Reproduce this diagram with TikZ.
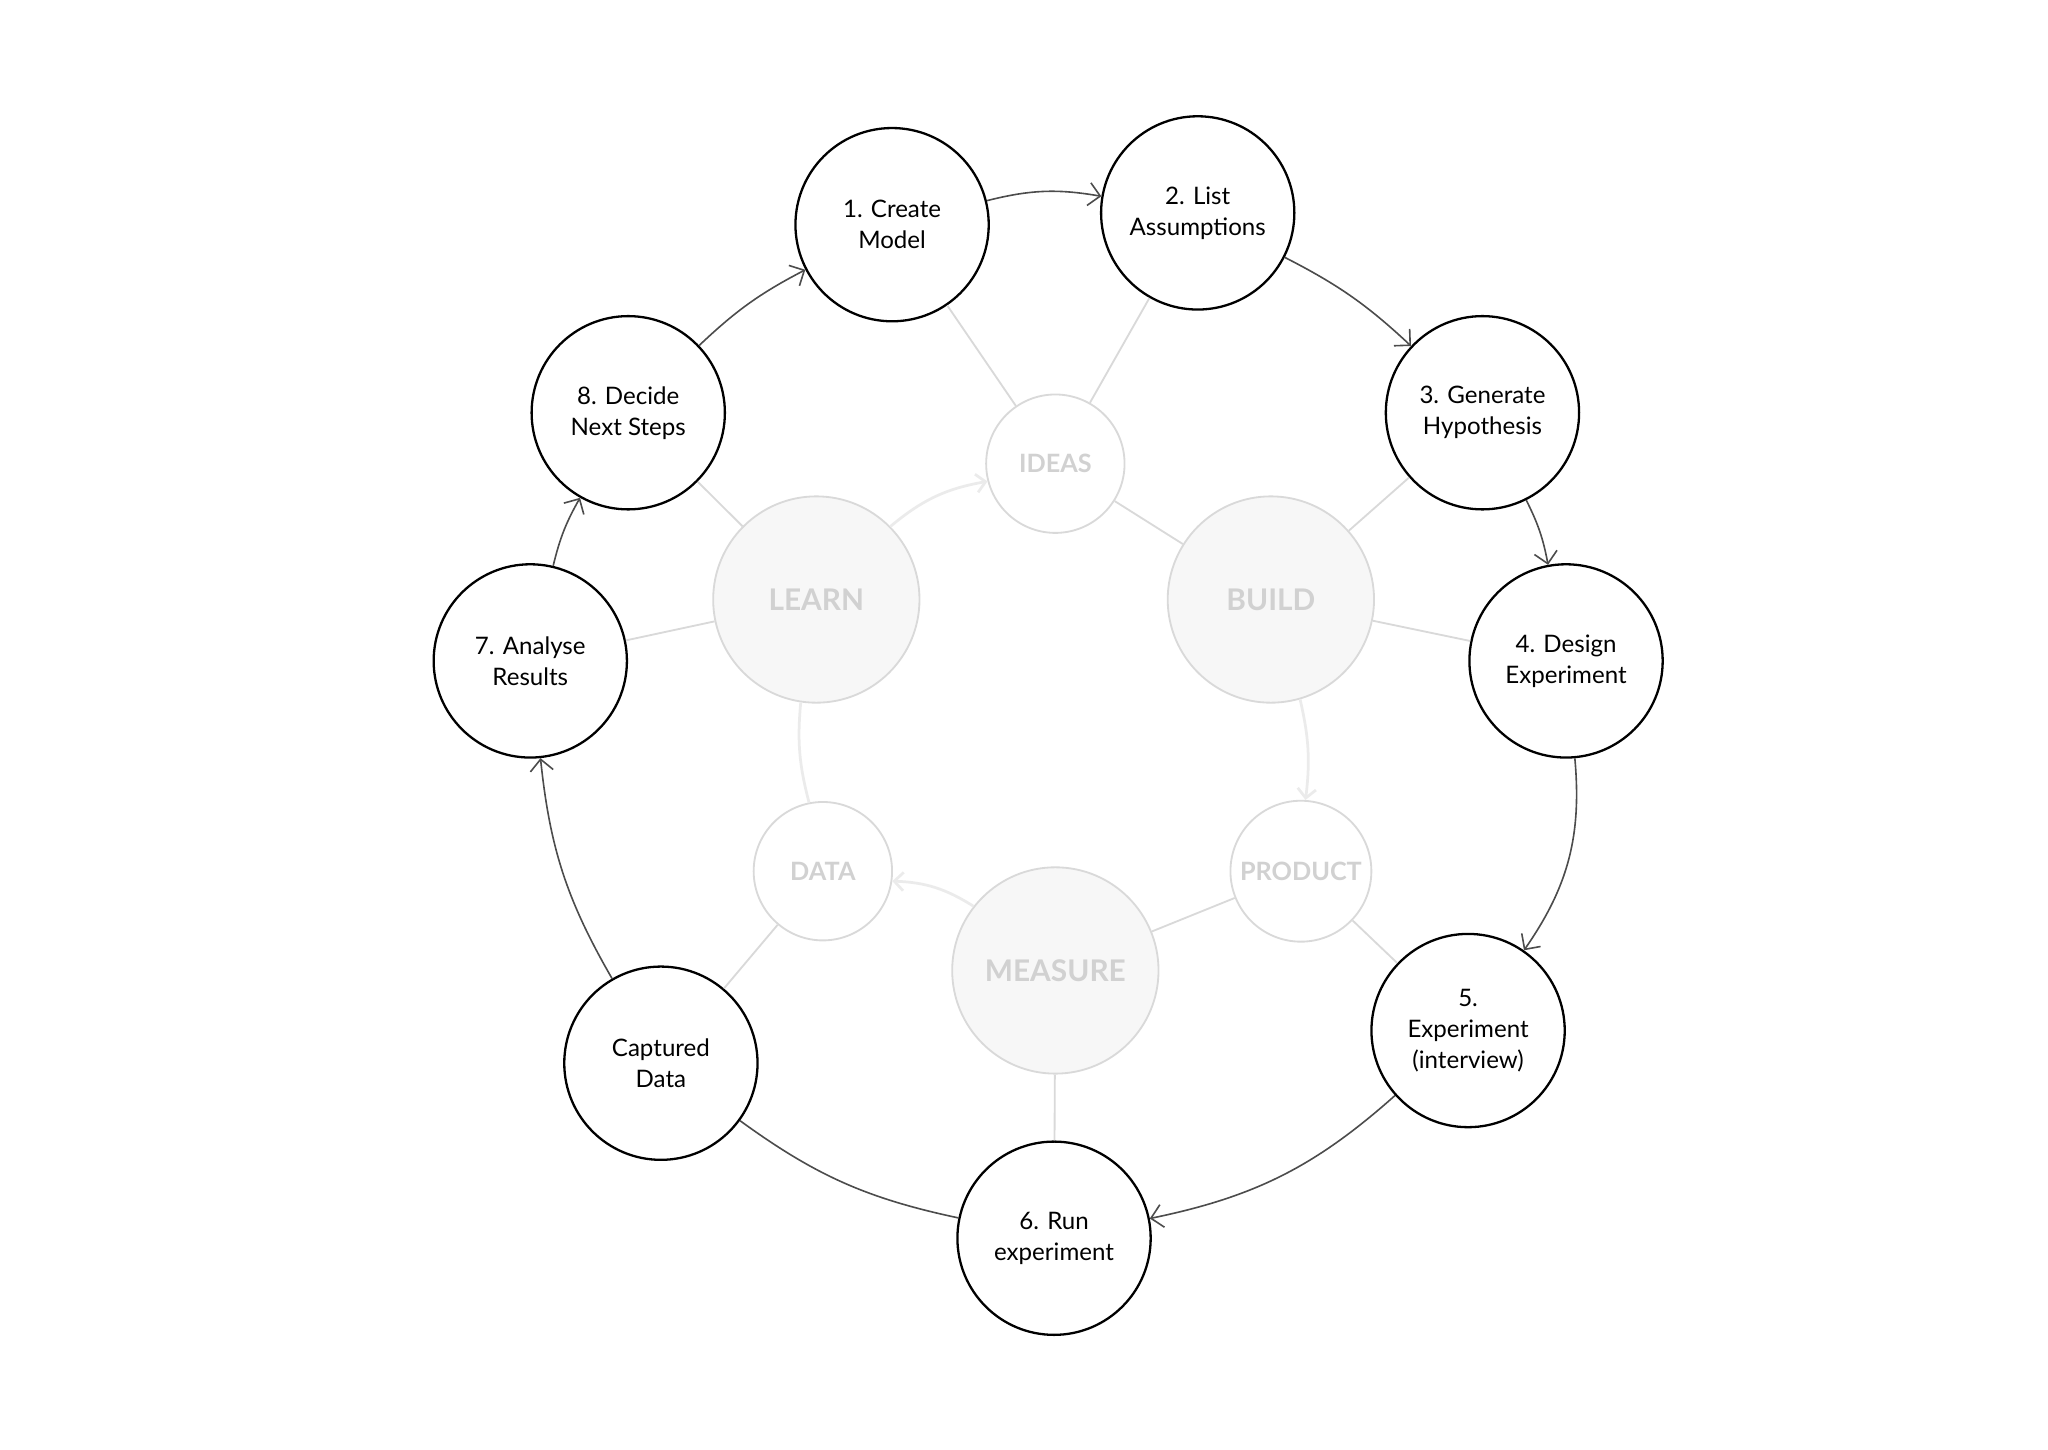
\documentclass[tikz,border=0pt]{standalone}
\usepackage{fontspec}
\setmainfont{Lato}
\usetikzlibrary{arrows.meta}
\begin{document}
\begin{tikzpicture}[x=0.02cm,y=-0.02cm,
  step/.style={},
  stage/.style={circle,draw=black,line width=1pt,minimum size=2.96cm,align=center,font=\fontsize{10.5}{13.5}\selectfont,fill=white},
  big/.style={circle,draw=black!15,line width=0.8pt,minimum size=3.16cm,fill=black!3,font=\fontsize{13}{15}\selectfont\bfseries,text=black!18},
  small/.style={circle,draw=black!15,line width=0.8pt,minimum size=2.12cm,fill=white,font=\fontsize{11}{13}\selectfont\bfseries,text=black!18},
  link/.style={draw=black!15,line width=0.8pt},
  glink/.style={draw=black!8,line width=1.2pt,-{Straight Barb[length=4pt]}},
  flow/.style={draw=black!70,line width=0.7pt,-{Straight Barb[length=5pt]}}]
\useasboundingbox (0,0) rectangle (1568,1110);
% grey nodes
\node[small] (ideas) at (808,355) {IDEAS};
\node[big] (learn) at (625,459) {LEARN};
\node[big] (build) at (973,459) {BUILD};
\node[small] (data) at (630,667) {DATA};
\node[small] (product) at (996,667) {PRODUCT};
\node[big] (measure) at (808,743) {MEASURE};
% stages
\node[stage] (s1) at (683,172) {1. Create\\Model};
\node[stage] (s2) at (917,163) {2. List\\Assumptions};
\node[stage] (s3) at (1135,316) {3. Generate\\Hypothesis};
\node[stage] (s4) at (1199,506) {4. Design\\Experiment};
\node[stage] (s5) at (1124,789) {5.\\Experiment\\(interview)};
\node[stage] (s6) at (807,948) {6. Run\\experiment};
\node[stage] (cd) at (506,814) {Captured\\Data};
\node[stage] (s7) at (406,506) {7. Analyse\\Results};
\node[stage] (s8) at (481,316) {8. Decide\\Next Steps};
% grey links
\begin{scope}[on background layer/.style={}]
\end{scope}
\path[link] (s1) -- (ideas) (s2) -- (ideas) (s3) -- (build) (s4) -- (build)
  (s5) -- (product) (s6) -- (measure) (cd) -- (data) (s7) -- (learn) (s8) -- (learn)
  (ideas) -- (build) (product) -- (measure);
\draw[glink] (learn) to[bend left=15] (ideas);
\draw[glink] (build) to[bend left=10] (product);
\draw[glink] (measure) to[bend right=15] (data);
\draw[draw=black!8,line width=1.2pt] (data) to[bend left=10] (learn);
% flow
\draw[flow] (s1) to[bend left=12] (s2);
\draw[flow] (s2) to[bend left=8] (s3);
\draw[flow] (s3) to[bend left=8] (s4);
\draw[flow] (s4) to[bend left=20] (s5);
\draw[flow] (s5) to[bend left=15] (s6);
\draw[draw=black!70,line width=0.7pt] (cd) to[bend right=12] (s6);
\draw[flow] (cd) to[bend left=12] (s7);
\draw[flow] (s7) to[bend left=8] (s8);
\draw[flow] (s8) to[bend left=8] (s1);
\end{tikzpicture}
\end{document}
